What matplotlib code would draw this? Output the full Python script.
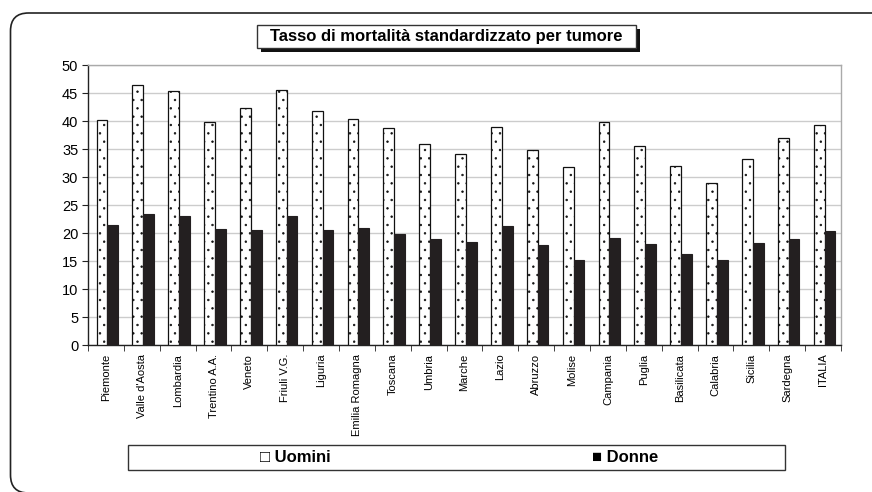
import matplotlib
matplotlib.use("Agg")
import matplotlib.pyplot as plt
import numpy as np
from matplotlib.patches import FancyBboxPatch, Rectangle
from matplotlib.transforms import IdentityTransform

regions = ["Piemonte", "Valle d'Aosta", "Lombardia", "Trentino A.A.", "Veneto",
           "Friuli V.G.", "Liguria", "Emilia Romagna", "Toscana", "Umbria",
           "Marche", "Lazio", "Abruzzo", "Molise", "Campania", "Puglia",
           "Basilicata", "Calabria", "Sicilia", "Sardegna", "ITALIA"]
uomini = [40.2, 46.5, 45.3, 39.8, 42.3, 45.5, 41.8, 40.4, 38.7, 35.9,
          34.1, 38.9, 34.8, 31.8, 39.9, 35.5, 32.0, 28.9, 33.3, 37.0, 39.3]
donne = [21.5, 23.5, 23.0, 20.7, 20.5, 23.0, 20.5, 20.9, 19.8, 19.0,
         18.4, 21.3, 17.9, 15.2, 19.2, 18.1, 16.2, 15.3, 18.3, 19.0, 20.3]
yticks = list(range(0, 55, 5))
title = "Tasso di mortalità standardizzato per tumore"

plt.rcParams['font.family'] = ['Liberation Sans', 'DejaVu Sans']
plt.rcParams['hatch.linewidth'] = 0.5

W, H = 872, 492
fig = plt.figure(figsize=(W / 100, H / 100), dpi=100)

# outer rounded frame (pixel coordinates, partly beyond the image edge)
frame = FancyBboxPatch((10.5, -1), 880, H - 13 + 1,
                       boxstyle="round,pad=0,rounding_size=18",
                       transform=IdentityTransform(), fill=False,
                       edgecolor="#222222", linewidth=1.2)
fig.patches.append(frame)

ax = fig.add_axes([88 / W, 1 - 345.3 / H, (841 - 88) / W, (345.3 - 65) / H])
x = np.arange(len(regions))
bw = 0.3
ax.bar(x - bw / 2 + 0.04, uomini, width=bw, color="white", edgecolor="#111111",
       linewidth=0.9, hatch="..", zorder=3)
ax.bar(x + bw / 2 + 0.04, donne, width=bw, color="#231f20", edgecolor="#231f20",
       linewidth=0.8, zorder=3)

ax.set_xlim(-0.5, len(regions) - 0.5)
ax.set_ylim(0, 50)
ax.set_yticks(yticks)
ax.set_yticklabels([str(v) for v in yticks], fontsize=10.5)
ax.yaxis.grid(True, color="#cccccc", linewidth=1.0, zorder=0)
ax.set_axisbelow(True)
for s in ["top", "right"]:
    ax.spines[s].set_color("#aaaaaa")
    ax.spines[s].set_linewidth(1.0)
for s in ["left", "bottom"]:
    ax.spines[s].set_color("#222222")
    ax.spines[s].set_linewidth(1.0)

ax.set_xticks(x)
ax.set_xticklabels(regions, rotation=90, fontsize=8, va="top", ha="center")
ax.tick_params(axis="x", length=0, pad=6)
ax.set_xticks(np.arange(-0.5, len(regions), 1.0), minor=True)
ax.tick_params(axis="x", which="minor", length=4, direction="out", color="#222222")
ax.tick_params(axis="y", length=4, direction="out", color="#222222", pad=3)

# title box with shadow
tx0, ty0, tw, th = 257, 25, 379, 23
fig.patches.append(Rectangle(((tx0 + 4) / W, 1 - (ty0 + th + 4) / H), tw / W, th / H,
                             transform=fig.transFigure, facecolor="#111111",
                             edgecolor="none"))
fig.patches.append(Rectangle((tx0 / W, 1 - (ty0 + th) / H), tw / W, th / H,
                             transform=fig.transFigure, facecolor="white",
                             edgecolor="#333333", linewidth=1.0))
fig.text((tx0 + tw / 2) / W, 1 - (ty0 + th / 2) / H, title, ha="center",
         va="center", fontsize=12, fontweight="bold")

# legend box
lx0, ly0, lw, lh = 128, 445, 657, 25
fig.patches.append(Rectangle((lx0 / W, 1 - (ly0 + lh) / H), lw / W, lh / H,
                             transform=fig.transFigure, facecolor="white",
                             edgecolor="#333333", linewidth=1.0))
fig.text(295 / W, 1 - (ly0 + lh / 2) / H, "□ Uomini", ha="center", va="center",
         fontsize=12, fontweight="bold")
fig.text(625 / W, 1 - (ly0 + lh / 2) / H, "■ Donne", ha="center", va="center",
         fontsize=12, fontweight="bold")

fig.savefig("out.png", dpi=100)
